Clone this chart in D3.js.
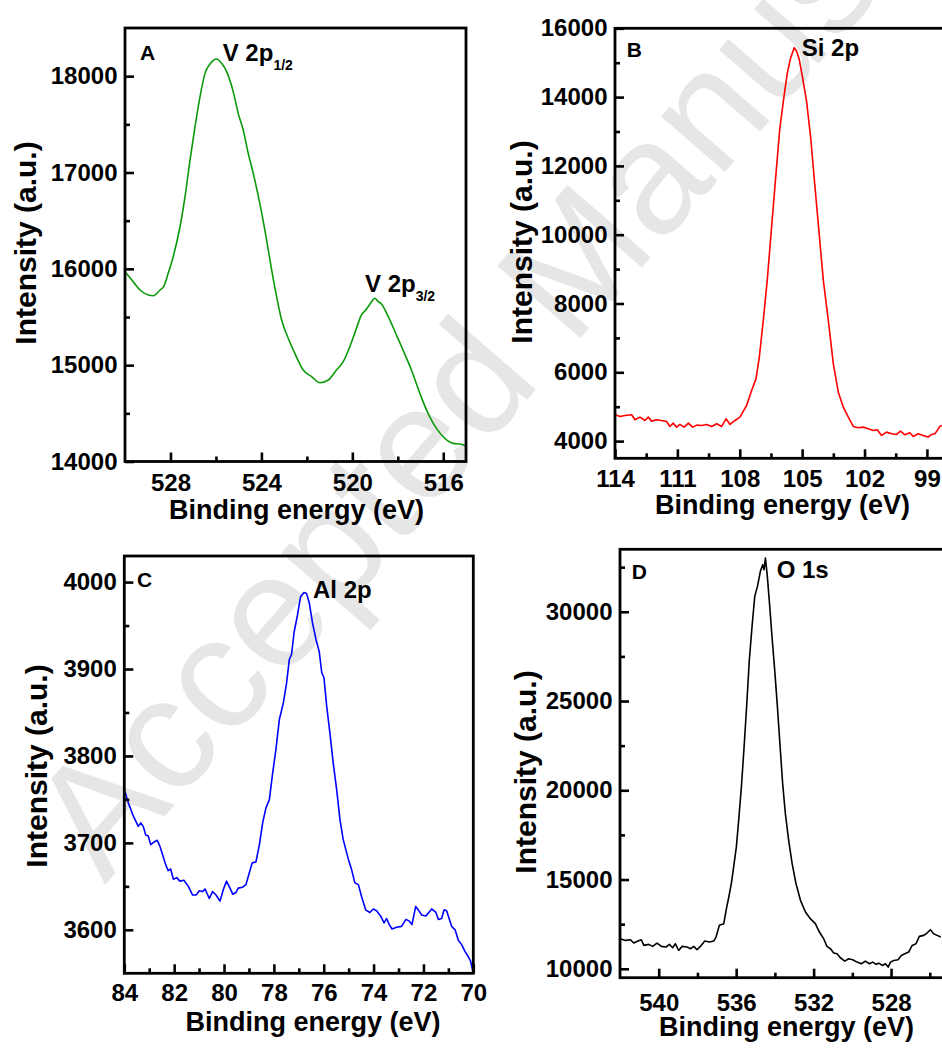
<!DOCTYPE html>
<html>
<head>
<meta charset="utf-8">
<script src="https://cdn.jsdelivr.net/npm/d3@7"></script>
<style>
  html, body { margin: 0; padding: 0; background: #ffffff; }
  svg { display: block; }
  text { font-family: "Liberation Sans", Arial, Helvetica, sans-serif; }
</style>
</head>
<body>
<svg id="fig" width="942" height="1051"></svg>
<script>
// ---- V 2p spectrum (panel A) ----
const vEnergy = [530.00, 529.70, 529.34, 528.97, 528.75, 528.46, 528.30, 528.10, 527.88, 527.58,
  527.36, 527.14, 526.92, 526.70, 526.48, 526.26, 525.97, 525.75, 525.53, 525.24,
  525.02, 524.80, 524.58, 524.36, 524.07, 523.77, 523.55, 523.33, 523.11, 522.82,
  522.53, 522.16, 521.79, 521.43, 521.06, 520.70, 520.40, 520.11, 519.82, 519.60,
  519.38, 519.20, 519.01, 518.86, 518.72, 518.42, 518.06, 517.77, 517.40, 517.03,
  516.67, 516.30, 515.93, 515.57, 515.27, 515.03];
const vIntensity = [15970, 15884, 15780, 15728, 15721, 15780, 15815, 15953, 16126, 16437,
  16749, 17129, 17475, 17787, 18029, 18126, 18178, 18133, 18047, 17840,
  17614, 17441, 17200, 16992, 16680, 16299, 15988, 15711, 15469, 15279,
  15123, 14950, 14881, 14818, 14846, 14950, 15036, 15192, 15382, 15521,
  15580, 15642, 15694, 15660, 15635, 15504, 15313, 15157, 14950, 14708,
  14500, 14344, 14240, 14188, 14181, 14164];
const vTicksX = [528, 524, 520, 516];
const vMinorX = [526, 522, 518];
const vTicksY = [14000, 15000, 16000, 17000, 18000];
const vMinorY = [14500, 15500, 16500, 17500];

// ---- Si 2p spectrum (panel B) ----
const siEnergy = [114.00, 113.76, 113.52, 113.20, 113.04, 112.80, 112.56, 112.40, 112.24, 112.00,
  111.76, 111.52, 111.36, 111.20, 111.04, 110.88, 110.68, 110.47, 110.27, 110.07,
  109.83, 109.59, 109.35, 109.11, 108.87, 108.66, 108.47, 108.23, 107.99, 107.83,
  107.67, 107.43, 107.22, 107.06, 106.87, 106.68, 106.47, 106.26, 106.07, 105.88,
  105.71, 105.55, 105.38, 105.27, 105.14, 104.98, 104.79, 104.59, 104.38, 104.18,
  103.98, 103.74, 103.50, 103.26, 103.02, 102.78, 102.54, 102.30, 102.06, 101.82,
  101.58, 101.39, 101.18, 100.94, 100.70, 100.46, 100.27, 100.06, 99.82, 99.66,
  99.42, 99.18, 98.94, 98.78, 98.62, 98.50, 98.38, 98.28];
const siIntensity = [4774, 4716, 4745, 4764, 4619, 4697, 4600, 4697, 4581, 4619,
  4600, 4571, 4426, 4522, 4406, 4484, 4406, 4522, 4406, 4464,
  4455, 4484, 4426, 4503, 4426, 4648, 4484, 4600, 4697, 4871,
  5035, 5471, 5809, 6438, 7503, 8664, 10212, 11760, 13115, 13986,
  14711, 15147, 15437, 15340, 15098, 14566, 13889, 12824, 11373, 10018,
  8664, 7503, 6245, 5422, 4987, 4697, 4426, 4387, 4406, 4358,
  4310, 4329, 4164, 4261, 4213, 4194, 4290, 4184, 4242, 4135,
  4213, 4164, 4116, 4194, 4213, 4310, 4426, 4455];
const siTicksX = [114, 111, 108, 105, 102, 99];
const siMinorX = [112.5, 109.5, 106.5, 103.5, 100.5];
const siTicksY = [4000, 6000, 8000, 10000, 12000, 14000, 16000];
const siMinorY = [5000, 7000, 9000, 11000, 13000, 15000];

// ---- Al 2p spectrum (panel C) ----
const alEnergy = [83.97, 83.84, 83.64, 83.44, 83.34, 83.24, 83.14, 83.04, 82.94, 82.81,
  82.68, 82.57, 82.46, 82.34, 82.24, 82.14, 82.03, 81.90, 81.77, 81.61,
  81.43, 81.26, 81.12, 80.99, 80.86, 80.76, 80.59, 80.46, 80.32, 80.16,
  80.03, 79.90, 79.76, 79.65, 79.52, 79.43, 79.25, 79.12, 78.99, 78.87,
  78.72, 78.58, 78.45, 78.32, 78.18, 78.05, 77.92, 77.78, 77.62, 77.49,
  77.38, 77.29, 77.19, 77.06, 76.93, 76.79, 76.69, 76.58, 76.45, 76.31,
  76.18, 76.08, 75.99, 75.88, 75.75, 75.62, 75.48, 75.35, 75.22, 75.01,
  74.88, 74.75, 74.61, 74.48, 74.32, 74.15, 74.01, 73.88, 73.72, 73.58,
  73.48, 73.37, 73.26, 73.08, 72.88, 72.70, 72.57, 72.46, 72.31, 72.21,
  72.07, 71.90, 71.67, 71.50, 71.40, 71.27, 71.17, 71.07, 70.87, 70.73,
  70.60, 70.47, 70.33, 70.20, 70.11, 70.00];
const alIntensity = [3759, 3746, 3731, 3719, 3723, 3719, 3709, 3708, 3698, 3701,
  3703, 3696, 3686, 3675, 3668, 3670, 3658, 3660, 3656, 3657,
  3650, 3640, 3640, 3645, 3644, 3647, 3636, 3644, 3640, 3633,
  3646, 3656, 3648, 3641, 3643, 3648, 3649, 3652, 3665, 3677,
  3678, 3698, 3723, 3740, 3750, 3780, 3807, 3842, 3861, 3884,
  3911, 3917, 3942, 3961, 3983, 3988, 3987, 3976, 3953, 3934,
  3920, 3896, 3890, 3857, 3826, 3792, 3761, 3727, 3704, 3681,
  3669, 3654, 3652, 3638, 3623, 3620, 3624, 3622, 3616, 3608,
  3613, 3606, 3601, 3603, 3604, 3612, 3610, 3606, 3627, 3623,
  3617, 3616, 3624, 3620, 3612, 3613, 3623, 3622, 3604, 3600,
  3588, 3583, 3575, 3569, 3564, 3550];
const alTicksX = [84, 82, 80, 78, 76, 74, 72, 70];
const alMinorX = [83, 81, 79, 77, 75, 73, 71];
const alTicksY = [3600, 3700, 3800, 3900, 4000];
const alMinorY = [3650, 3750, 3850, 3950];

// ---- O 1s spectrum (panel D) ----
const oEnergy = [541.98, 541.72, 541.46, 541.29, 541.07, 540.90, 540.77, 540.52, 540.31, 540.09,
  539.86, 539.62, 539.45, 539.28, 539.14, 538.97, 538.79, 538.54, 538.36, 538.19,
  538.02, 537.85, 537.62, 537.38, 537.16, 537.04, 536.87, 536.64, 536.52, 536.38,
  536.25, 536.13, 535.99, 535.87, 535.73, 535.59, 535.45, 535.32, 535.18, 535.04,
  534.90, 534.75, 534.63, 534.56, 534.49, 534.39, 534.28, 534.15, 534.01, 533.87,
  533.73, 533.60, 533.46, 533.29, 533.11, 532.91, 532.68, 532.42, 532.17, 531.91,
  531.70, 531.48, 531.31, 531.13, 530.96, 530.79, 530.62, 530.39, 530.19, 529.98,
  529.76, 529.53, 529.33, 529.12, 528.95, 528.77, 528.64, 528.43, 528.29, 528.15,
  528.03, 527.86, 527.64, 527.47, 527.29, 527.09, 526.91, 526.71, 526.54, 526.31,
  526.14, 525.97, 525.80, 525.62, 525.43];
const oIntensity = [11684, 11590, 11628, 11441, 11553, 11628, 11310, 11366, 11254, 11441,
  11254, 11216, 11366, 11179, 11403, 11029, 11254, 11216, 11123, 11254,
  11066, 11254, 11553, 11497, 11553, 11777, 12432, 12526, 13274, 14022,
  14771, 15706, 16829, 18325, 20196, 22442, 24874, 27306, 29177, 30861,
  31422, 32264, 32638, 32357, 33012, 31983, 30487, 28615, 26745, 24686,
  22442, 20384, 18700, 17203, 15893, 14771, 13835, 13181, 12806, 12526,
  12058, 11684, 11254, 11123, 10879, 10842, 10617, 10430, 10561, 10505,
  10374, 10281, 10430, 10281, 10374, 10243, 10318, 10187, 10281, 10094,
  10374, 10468, 10505, 10748, 10842, 10935, 11310, 11403, 11815, 11871,
  12002, 12189, 11964, 11871, 11777];
const oTicksX = [540, 536, 532, 528];
const oMinorX = [538, 534, 530, 526];
const oTicksY = [10000, 15000, 20000, 25000, 30000];
const oMinorY = [12500, 17500, 22500, 27500, 32500];

// ---- panel layout ----
const panels = [
  { letter: "A", box: [125, 28, 466, 461.5], xDomain: [530, 515], yDomain: [14000, 18500],
    energy: vEnergy, intensity: vIntensity, color: "#0a9a0a", smooth: true,
    xTicks: vTicksX, xMinor: vMinorX, yTicks: vTicksY, yMinor: vMinorY,
    xPad: 12.5, xTitle: [296.5, 519], yTitle: [36, 243], letterPos: [15, 32],
    peaks: [{ main: "V 2p", sub: "1/2", pos: [97.7, 33] }, { main: "V 2p", sub: "3/2", pos: [240, 263.7] }] },
  { letter: "B", box: [615, 28.3, 968.5, 458.3], xDomain: [114, 97], yDomain: [3500, 16000],
    energy: siEnergy, intensity: siIntensity, color: "#ff0000", smooth: false,
    xTicks: siTicksX, xMinor: siMinorX, yTicks: siTicksY, yMinor: siMinorY,
    xPad: 11.7, xTitle: [782.5, 514], yTitle: [532, 242], letterPos: [11.7, 28.4],
    peaks: [{ main: "Si 2p", sub: "", pos: [186.7, 27.7] }] },
  { letter: "C", box: [124.3, 556, 473.3, 973.3], xDomain: [84, 70], yDomain: [3550, 4030],
    energy: alEnergy, intensity: alIntensity, color: "#0000ff", smooth: false,
    xTicks: alTicksX, xMinor: alMinorX, yTicks: alTicksY, yMinor: alMinorY,
    xPad: 10.7, xTitle: [313, 1031], yTitle: [47, 766], letterPos: [12.7, 31],
    peaks: [{ main: "Al 2p", sub: "", pos: [188.7, 42] }] },
  { letter: "D", box: [620, 549.3, 968.5, 977.7], xDomain: [542, 524], yDomain: [9500, 33500],
    energy: oEnergy, intensity: oIntensity, color: "#000000", smooth: false,
    xTicks: oTicksX, xMinor: oMinorX, yTicks: oTicksY, yMinor: oMinorY,
    xPad: 16, xTitle: [786.5, 1036], yTitle: [536, 772], letterPos: [11.7, 30],
    peaks: [{ main: "O 1s", sub: "", pos: [156.7, 28.7] }] }
];

const svg = d3.select("#fig");
svg.append("rect").attr("width", 942).attr("height", 1051).attr("fill", "#ffffff");

// diagonal stamp behind the figure
svg.append("text")
  .attr("transform", "translate(105,885) rotate(-49)")
  .attr("font-size", 160)
  .attr("fill", "#e6e6e6")
  .text("Accepted Manuscript");

panels.forEach(p => {
  const [x0, y0, x1, y1] = p.box;
  const x = d3.scaleLinear().domain(p.xDomain).range([x0, x1]);
  const y = d3.scaleLinear().domain(p.yDomain).range([y1, y0]);
  const g = svg.append("g");

  // spectrum trace
  const line = d3.line()
    .x((d, i) => x(p.energy[i]))
    .y((d, i) => y(p.intensity[i]))
    .curve(p.smooth ? d3.curveMonotoneX : d3.curveLinear);
  g.append("path")
    .attr("d", line(p.energy))
    .attr("fill", "none")
    .attr("stroke", p.color)
    .attr("stroke-width", 1.6)
    .attr("stroke-linejoin", "round");

  // minor ticks (inward)
  g.append("g").attr("transform", `translate(0,${y1})`)
    .call(d3.axisBottom(x).tickValues(p.xMinor).tickSize(-5).tickFormat(""))
    .call(a => a.select(".domain").remove());
  g.append("g").attr("transform", `translate(${x0},0)`)
    .call(d3.axisLeft(y).tickValues(p.yMinor).tickSize(-5).tickFormat(""))
    .call(a => a.select(".domain").remove());

  // major ticks with labels
  const xa = g.append("g").attr("transform", `translate(0,${y1})`)
    .call(d3.axisBottom(x).tickValues(p.xTicks).tickSizeInner(-9).tickSizeOuter(0)
      .tickPadding(p.xPad).tickFormat(d3.format("d")));
  const ya = g.append("g").attr("transform", `translate(${x0},0)`)
    .call(d3.axisLeft(y).tickValues(p.yTicks).tickSizeInner(-9).tickSizeOuter(0)
      .tickPadding(7.5).tickFormat(d3.format("d")));
  [xa, ya].forEach(a => {
    a.select(".domain").remove();
    a.selectAll("text").attr("font-size", 24).attr("font-weight", "bold")
      .attr("fill", "#000").attr("font-family", '"Liberation Sans", Arial, sans-serif');
  });
  g.selectAll(".tick line").attr("stroke", "#000").attr("stroke-width", 2.6);

  // frame
  g.append("rect")
    .attr("x", x0).attr("y", y0).attr("width", x1 - x0).attr("height", y1 - y0)
    .attr("fill", "none").attr("stroke", "#000").attr("stroke-width", 2.8);

  // panel letter
  g.append("text")
    .attr("x", x0 + p.letterPos[0]).attr("y", y0 + p.letterPos[1])
    .attr("font-size", 21).attr("font-weight", "bold").text(p.letter);

  // peak labels
  p.peaks.forEach(pk => {
    const t = g.append("text")
      .attr("x", x0 + pk.pos[0]).attr("y", y0 + pk.pos[1])
      .attr("font-size", 24).attr("font-weight", "bold");
    t.append("tspan").text(pk.main);
    if (pk.sub) t.append("tspan").attr("font-size", 14).attr("dy", 9).text(pk.sub);
  });

  // axis titles
  g.append("text")
    .attr("x", p.xTitle[0]).attr("y", p.xTitle[1])
    .attr("text-anchor", "middle").attr("font-size", 27).attr("font-weight", "bold")
    .text("Binding energy (eV)");
  g.append("text")
    .attr("transform", `translate(${p.yTitle[0]},${p.yTitle[1]}) rotate(-90)`)
    .attr("text-anchor", "middle").attr("font-size", 30).attr("font-weight", "bold")
    .text("Intensity (a.u.)");
});
</script>
</body>
</html>
